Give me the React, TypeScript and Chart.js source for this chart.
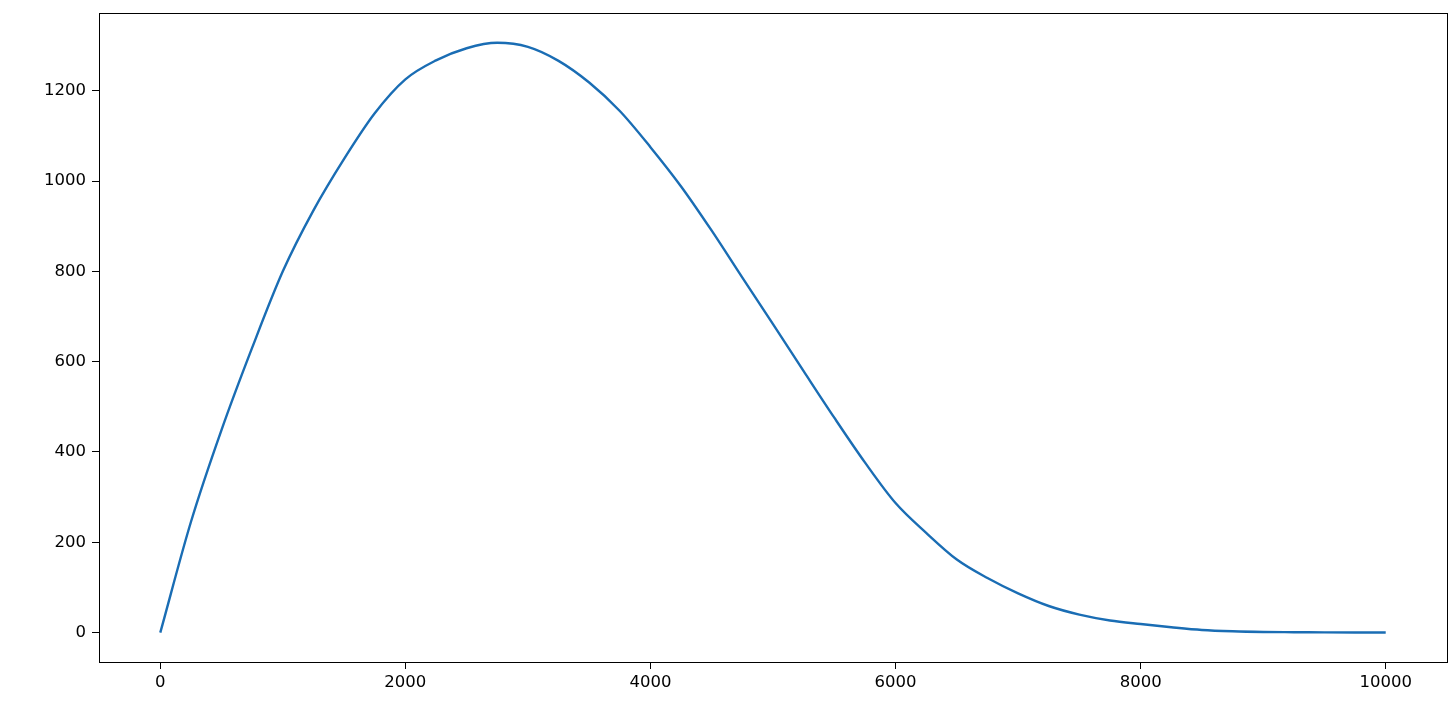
import React, { useEffect, useRef } from "react";
import { Chart, registerables } from "chart.js";

Chart.register(...registerables);

const xValues = [
  0, 250, 500, 750, 1000, 1250, 1500, 1750, 2000, 2250, 2500, 2750, 3000, 3250,
  3500, 3750, 4000, 4250, 4500, 4750, 5000, 5250, 5500, 5750, 6000, 6250, 6500,
  6750, 7000, 7250, 7500, 7750, 8000, 8250, 8500, 8750, 9000, 9250, 9500, 9750,
  10000,
];
const yValues = [
  0, 245, 449, 631, 800, 935, 1049, 1150, 1225, 1267, 1294, 1306, 1297, 1266,
  1218, 1155, 1075, 988, 890, 786, 683, 579, 476, 377, 287, 221, 162, 121, 87,
  59, 40, 27, 19, 12, 6, 3, 1.5, 1, 0.6, 0.4, 0.3,
];
const xTicks = [0, 2000, 4000, 6000, 8000, 10000];
const yTicks = [0, 200, 400, 600, 800, 1000, 1200];

const frame = {
  id: "frame",
  afterDraw(chart: any) {
    const { ctx, chartArea } = chart;
    ctx.save();
    ctx.strokeStyle = "#000";
    ctx.lineWidth = 1;
    ctx.strokeRect(
      Math.round(chartArea.left) + 0.5,
      Math.round(chartArea.top) + 0.5,
      Math.round(chartArea.right - chartArea.left),
      Math.round(chartArea.bottom - chartArea.top)
    );
    ctx.restore();
  },
};

export default function App() {
  const ref = useRef<HTMLCanvasElement>(null);
  useEffect(() => {
    document.body.style.margin = "0";
    const chart = new Chart(ref.current!, {
      type: "line",
      data: {
        datasets: [
          {
            data: xValues.map((x, i) => ({ x, y: yValues[i] })),
            borderColor: "#1a6db4",
            borderWidth: 2.4,
            pointRadius: 0,
            cubicInterpolationMode: "monotone",
            fill: false,
          },
        ],
      },
      options: {
        animation: false,
        responsive: false,
        maintainAspectRatio: false,
        layout: { padding: { top: 13, right: 9, left: 0, bottom: 0 } },
        plugins: { legend: { display: false }, tooltip: { enabled: false } },
        scales: {
          x: {
            type: "linear",
            min: -500,
            max: 10500,
            afterBuildTicks: (s: any) => {
              s.ticks = xTicks.map((v) => ({ value: v }));
            },
            afterFit: (s: any) => {
              s.height = 55;
              s.paddingLeft = 0;
              s.paddingRight = 0;
            },
            grid: {
              drawOnChartArea: false,
              drawTicks: true,
              tickLength: 7,
              tickColor: "#000",
            },
            border: { display: true, color: "#000", width: 1 },
            ticks: {
              color: "#000",
              padding: 4,
              maxRotation: 0,
              font: { family: "DejaVu Sans", size: 16.5 },
              callback: (v: any) => String(v),
            },
          },
          y: {
            type: "linear",
            min: -65,
            max: 1372,
            afterBuildTicks: (s: any) => {
              s.ticks = yTicks.map((v) => ({ value: v }));
            },
            afterFit: (s: any) => {
              s.width = 99;
              s.paddingTop = 0;
              s.paddingBottom = 0;
            },
            grid: {
              drawOnChartArea: false,
              drawTicks: true,
              tickLength: 7,
              tickColor: "#000",
            },
            border: { display: true, color: "#000", width: 1 },
            ticks: {
              color: "#000",
              padding: 6,
              font: { family: "DejaVu Sans", size: 16.5 },
              callback: (v: any) => String(v),
            },
          },
        },
      },
      plugins: [frame],
    });
    return () => chart.destroy();
  }, []);
  return (
    <div style={{ width: 1456, height: 717, background: "#fff" }}>
      <canvas ref={ref} width={1456} height={717} style={{ display: "block" }} />
    </div>
  );
}
